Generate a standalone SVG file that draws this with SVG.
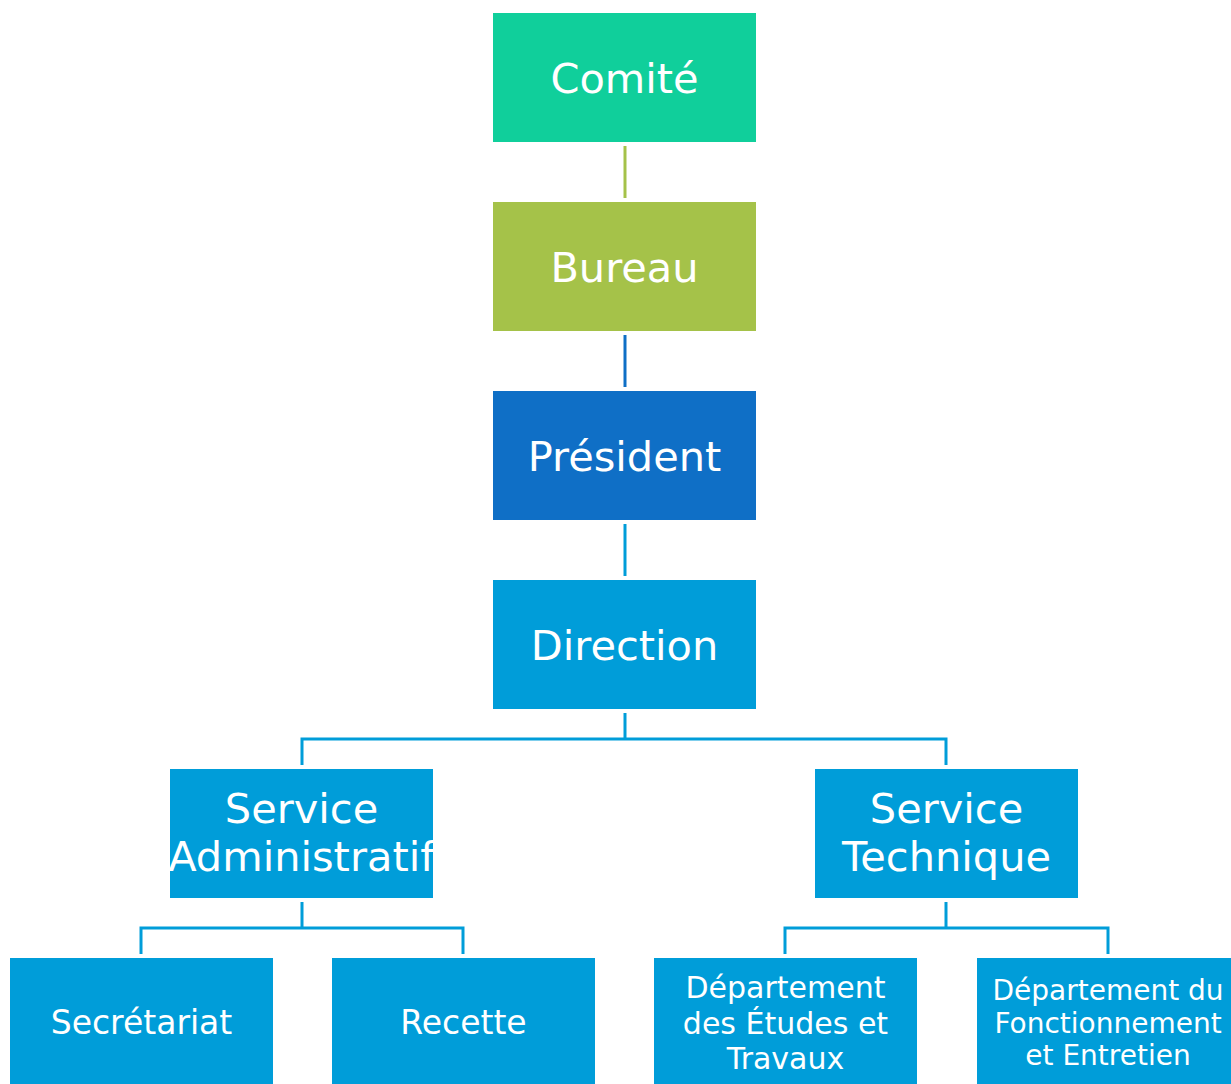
<svg xmlns="http://www.w3.org/2000/svg" width="1231" height="1084" viewBox="0 0 1231 1084">
<style>
text{font-family:"DejaVu Sans","Liberation Sans",sans-serif;fill:#fff;text-anchor:middle}
.big{font-size:41.5px}
.med{font-size:33px}
.sm{font-size:30px}
.xs{font-size:28px}
.c{fill:none;stroke-width:3}
</style>
<rect width="1231" height="1084" fill="#fff"/>
<g id="connectors">
<line class="c" x1="625" y1="146" x2="625" y2="198" stroke="#a5c249"/>
<line class="c" x1="625" y1="335" x2="625" y2="387" stroke="#0f6fc6"/>
<line class="c" x1="625" y1="524" x2="625" y2="576" stroke="#009dd9"/>
<path class="c" d="M625 713V739M302 765V739H946V765" stroke="#009dd9"/>
<path class="c" d="M302 902V928M141 954V928H463V954" stroke="#009dd9"/>
<path class="c" d="M946 902V928M785 954V928H1108V954" stroke="#009dd9"/>
</g>
<g id="comite"><rect x="493" y="13" width="263" height="129" fill="#10cf9b"/><text class="big" x="624.5" y="93">Comité</text></g>
<g id="bureau"><rect x="493" y="202" width="263" height="129" fill="#a5c249"/><text class="big" x="624.5" y="282">Bureau</text></g>
<g id="president"><rect x="493" y="391" width="263" height="129" fill="#0f6fc6"/><text class="big" x="624.5" y="471">Président</text></g>
<g id="direction"><rect x="493" y="580" width="263" height="129" fill="#009dd9"/><text class="big" x="624.5" y="660">Direction</text></g>
<g id="service-administratif"><rect x="170" y="769" width="263" height="129" fill="#009dd9"/><text class="big" x="301.5" y="823">Service</text><text class="big" x="301.5" y="871">Administratif</text></g>
<g id="service-technique"><rect x="815" y="769" width="263" height="129" fill="#009dd9"/><text class="big" x="946.5" y="823">Service</text><text class="big" x="946.5" y="871">Technique</text></g>
<g id="secretariat"><rect x="10" y="958" width="263" height="130" fill="#009dd9"/><text class="med" x="141.5" y="1034">Secrétariat</text></g>
<g id="recette"><rect x="332" y="958" width="263" height="130" fill="#009dd9"/><text class="med" x="463.5" y="1034">Recette</text></g>
<g id="dept-etudes"><rect x="654" y="958" width="263" height="130" fill="#009dd9"/><text class="sm" x="785.5" y="998">Département</text><text class="sm" x="785.5" y="1034">des Études et</text><text class="sm" x="785.5" y="1069">Travaux</text></g>
<g id="dept-fonctionnement"><rect x="977" y="958" width="263" height="130" fill="#009dd9"/><text class="xs" x="1108" y="1000">Département du</text><text class="xs" x="1108" y="1033">Fonctionnement</text><text class="xs" x="1108" y="1065">et Entretien</text></g>
</svg>
